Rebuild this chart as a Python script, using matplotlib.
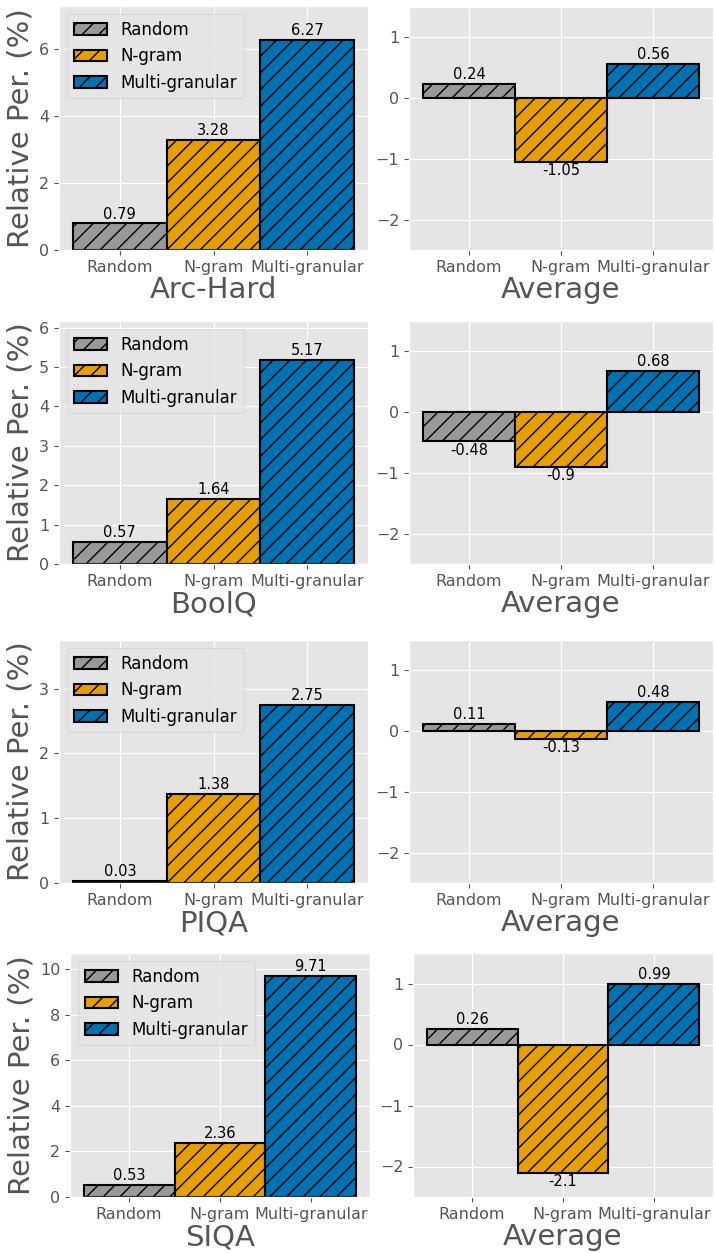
import matplotlib
matplotlib.use("Agg")
import matplotlib.pyplot as plt
import numpy as np

plt.style.use("ggplot")
plt.rcParams["font.family"] = ["DejaVu Sans"]
plt.rcParams["hatch.linewidth"] = 1.0

# ---------- data ----------
methods = ["Random", "N-gram", "Multi-granular"]
datasets = ["Arc-Hard", "BoolQ", "PIQA", "SIQA"]
arc_hard = [0.79, 3.28, 6.27]
boolq = [0.57, 1.64, 5.17]
piqa = [0.03, 1.38, 2.75]
siqa = [0.53, 2.36, 9.71]
avg_arc_hard = [0.24, -1.05, 0.56]
avg_boolq = [-0.48, -0.9, 0.68]
avg_piqa = [0.11, -0.13, 0.48]
avg_siqa = [0.26, -2.1, 0.99]

COLORS = ["#999999", "#E69F00", "#0072B2"]

W, H = 716, 1253
fig = plt.figure(figsize=(W / 100, H / 100), dpi=100)


def px_axes(x0, y0, x1, y1):
    # pixel box (top-left origin) -> figure fraction
    return fig.add_axes([x0 / W, 1 - y1 / H, (x1 - x0) / W, (y1 - y0) / H])


# (left box, right box) per row, in pixels
boxes = [
    ((59, 6, 368, 250), (409, 7, 713, 250)),
    ((59, 321, 368, 564), (409, 321, 713, 564)),
    ((59, 640, 368, 883), (409, 640, 713, 883)),
    ((70, 953, 370, 1197), (413, 953, 713, 1197)),
]

main_vals = [arc_hard, boolq, piqa, siqa]
avg_vals = [avg_arc_hard, avg_boolq, avg_piqa, avg_siqa]


def draw_bars(ax, vals, with_legend):
    x = np.arange(len(methods))
    bars = ax.bar(x, vals, width=1.0, color=COLORS, edgecolor="black",
                  linewidth=1.5, hatch="//", label=methods)
    span = ax.get_ylim()[1] - ax.get_ylim()[0]
    for xi, v in zip(x, vals):
        if v >= 0:
            ax.text(xi, v + 0.008 * span, f"{v:g}", ha="center",
                    va="bottom", fontsize=10.5, color="black")
        else:
            ax.text(xi, v - 0.006 * span, f"{v:g}", ha="center",
                    va="top", fontsize=10.5, color="black")
    ax.set_xticks(x)
    ax.set_xticklabels(methods, fontsize=11.5)
    ax.tick_params(axis="y", labelsize=11.5)
    if with_legend:
        ax.legend(bars, methods, loc="upper left", fontsize=12,
                  facecolor="#E5E5E5", framealpha=0.8)
    return bars


for i, name in enumerate(datasets):
    lb, rb = boxes[i]
    ax_l = px_axes(*lb)
    ax_l.set_ylim(0, max(main_vals[i]) + 1)
    draw_bars(ax_l, main_vals[i], True)
    ax_l.set_xlabel(name, fontsize=21, labelpad=1)
    ax_l.set_ylabel("Relative Per. (%)", fontsize=21, labelpad=3)

    ax_r = px_axes(*rb)
    ax_r.set_ylim(-2.5, 1.5)
    draw_bars(ax_r, avg_vals[i], False)
    ax_r.set_xlabel("Average", fontsize=21, labelpad=1)

fig.savefig("out.png", dpi=100)
